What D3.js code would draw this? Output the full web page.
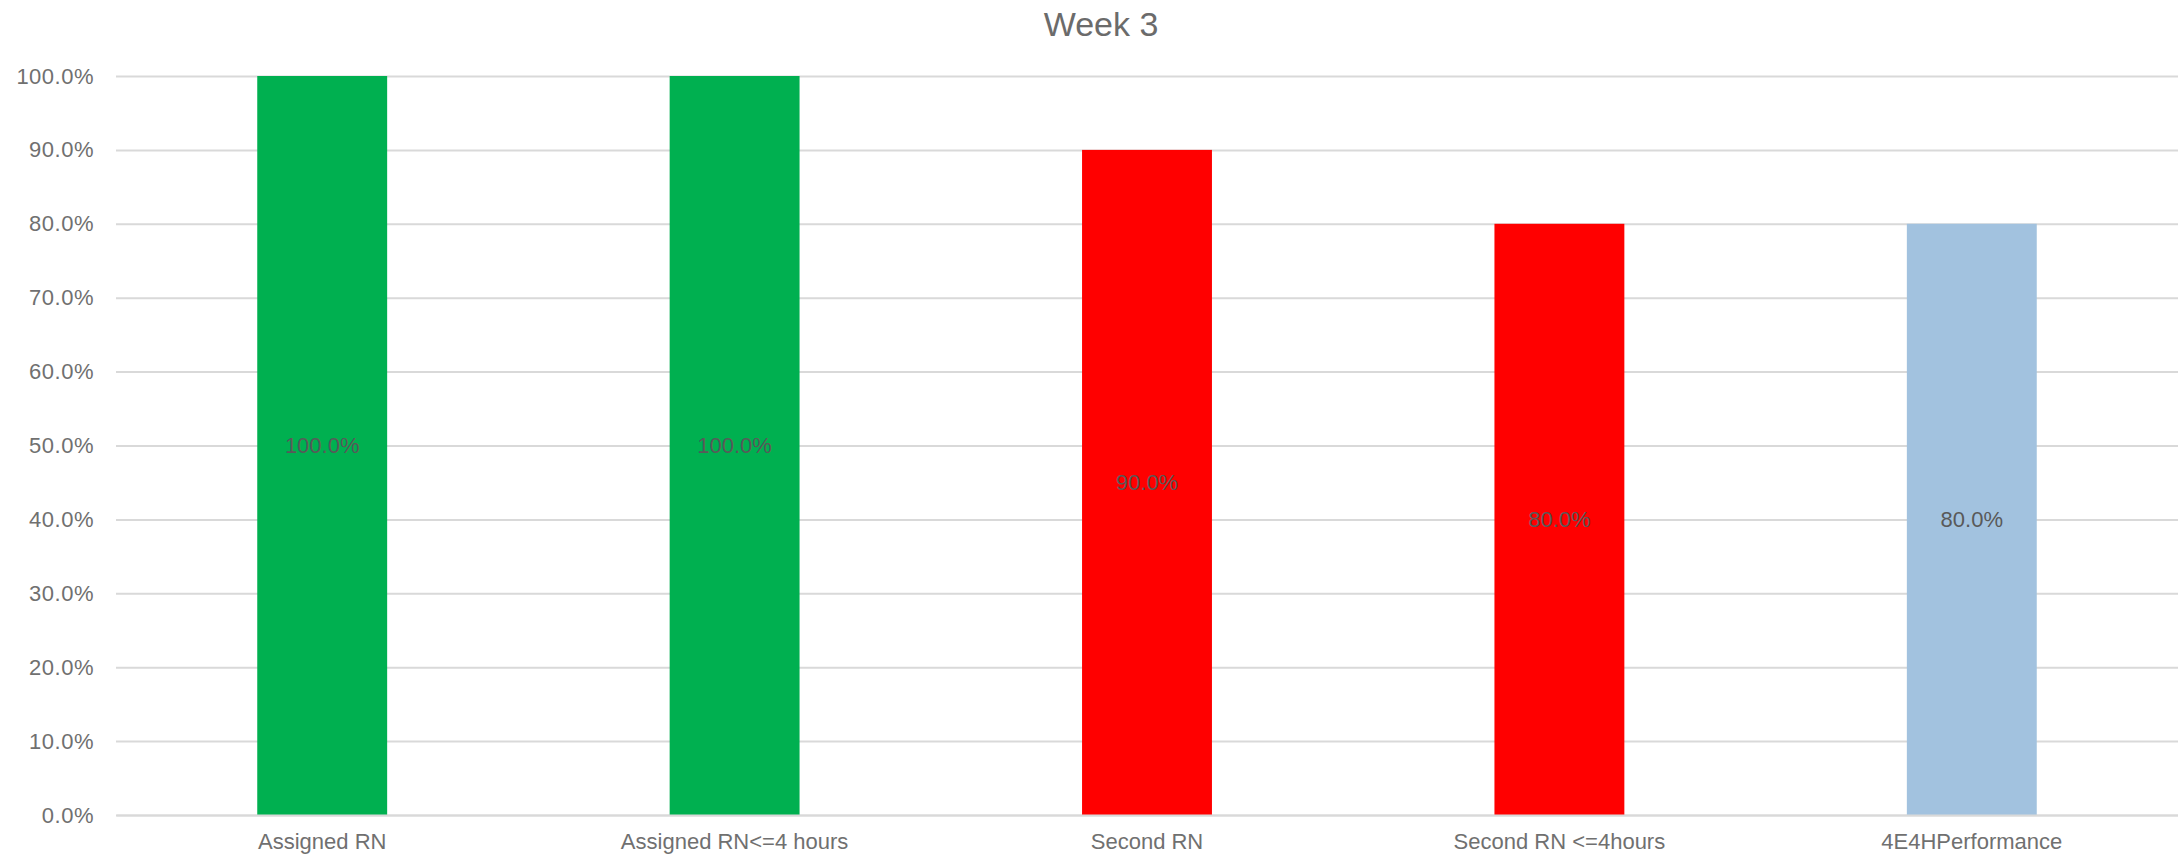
<!DOCTYPE html>
<html>
<head>
<meta charset="utf-8">
<script src="https://cdn.jsdelivr.net/npm/d3@7"></script>
<style>
  html, body { margin: 0; padding: 0; background: #ffffff; }
  svg { display: block; }
</style>
</head>
<body>
<svg id="chart" width="2178" height="859"></svg>
<script>
// Week 3 completion rates by measure
const categories = ["Assigned RN", "Assigned RN<=4 hours", "Second RN", "Second RN <=4hours", "4E4HPerformance"];
const values = [1.0, 1.0, 0.9, 0.8, 0.8];
const barColors = ["#00B050", "#00B050", "#FF0000", "#FF0000", "#A2C2DF"];
const yTicks = [0, 0.1, 0.2, 0.3, 0.4, 0.5, 0.6, 0.7, 0.8, 0.9, 1.0];
const title = "Week 3";

const W = 2178, H = 859;
const margin = { top: 76, right: 0, bottom: 44, left: 116 };
const svg = d3.select("#chart");
const font = "'Liberation Sans', Arial, sans-serif";

const x = d3.scaleBand()
  .domain(categories)
  .range([margin.left, W - margin.right])
  .paddingInner(0.685)
  .paddingOuter(0.3425);

const y = d3.scaleLinear()
  .domain([0, 1])
  .range([H - margin.bottom, margin.top]);

const fmt = d3.format(".1%");

// Horizontal gridlines and y labels
const yAxis = svg.append("g")
  .attr("transform", `translate(${margin.left},0)`)
  .call(d3.axisLeft(y).tickValues(yTicks).tickFormat(fmt)
    .tickSize(-(W - margin.left - margin.right)).tickPadding(22));
yAxis.select(".domain").remove();
yAxis.selectAll(".tick line").attr("stroke", "#d9d9d9").attr("stroke-width", 2);
yAxis.selectAll(".tick text")
  .attr("fill", "#707070")
  .style("font-family", font)
  .style("font-size", "22px")
  .style("letter-spacing", "0.5px");

// Bars
svg.append("g").selectAll("rect")
  .data(categories)
  .join("rect")
  .attr("x", d => x(d))
  .attr("width", x.bandwidth())
  .attr("y", (d, i) => y(values[i]))
  .attr("height", (d, i) => y(0) - y(values[i]))
  .attr("fill", (d, i) => barColors[i]);

// Value labels centred in each bar
svg.append("g").selectAll("text")
  .data(categories)
  .join("text")
  .attr("x", d => x(d) + x.bandwidth() / 2)
  .attr("y", (d, i) => y(values[i] / 2))
  .attr("dy", "0.35em")
  .attr("text-anchor", "middle")
  .attr("fill", "#595959")
  .style("font-family", font)
  .style("font-size", "22px")
  .text((d, i) => fmt(values[i]));

// Category axis
const xAxis = svg.append("g")
  .attr("transform", `translate(0,${y(0)})`)
  .call(d3.axisBottom(x).tickSize(0).tickPadding(18));
xAxis.select(".domain").attr("stroke", "#d9d9d9").attr("stroke-width", 2);
xAxis.selectAll(".tick text")
  .attr("fill", "#707070")
  .style("font-family", font)
  .style("font-size", "22px");

// Title
svg.append("text")
  .attr("x", 1101)
  .attr("y", 36)
  .attr("text-anchor", "middle")
  .attr("fill", "#6b6b6b")
  .style("font-family", font)
  .style("font-size", "34px")
  .text(title);
</script>
</body>
</html>
